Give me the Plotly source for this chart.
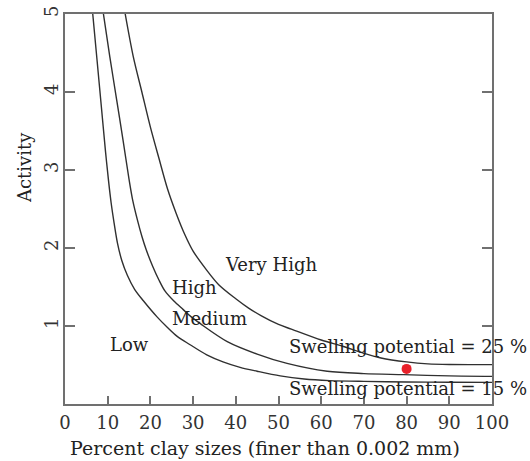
import plotly.graph_objects as go

# Boundary curves (percent clay vs activity)
low_med_x = [6.5, 7.5, 8.5, 9.5, 10.2, 10.8, 11.5, 12.3, 13.3, 14.6, 16.3, 18.4, 21.5, 24.0, 26.2,
             29.3, 33.2, 37.0, 41.0, 45.0, 50.4, 56.0, 62.0, 70.0, 80.0, 90.0, 100.0]
low_med_y = [5.0, 4.41, 3.82, 3.23, 2.86, 2.58, 2.32, 2.06, 1.84, 1.65, 1.47, 1.32, 1.12, 0.98, 0.87,
             0.76, 0.63, 0.54, 0.47, 0.42, 0.36, 0.32, 0.30, 0.29, 0.283, 0.279, 0.277]

med_high_x = [9.0, 10.5, 12.1, 13.6, 15.0, 15.9, 17.0, 18.0, 19.0, 20.5, 22.0, 23.4, 25.5, 27.7,
              29.5, 31.7, 38.0, 45.0, 52.0, 61.4, 70.0, 79.3, 90.0, 100.0]
med_high_y = [5.0, 4.45, 3.9, 3.38, 2.88, 2.6, 2.35, 2.15, 1.98, 1.77, 1.59, 1.45, 1.32, 1.21,
              1.12, 1.03, 0.80, 0.64, 0.52, 0.42, 0.39, 0.376, 0.36, 0.354]

high_vh_x = [14.1, 16.0, 18.0, 20.0, 22.0, 24.0, 26.0, 28.0, 30.0, 33.0, 36.0, 40.0, 43.0, 46.0,
             50.0, 53.0, 60.0, 65.0, 70.0, 74.0, 80.0, 85.0, 90.0, 100.0]
high_vh_y = [5.0, 4.45, 4.0, 3.55, 3.15, 2.76, 2.45, 2.18, 1.96, 1.73, 1.53, 1.35, 1.23, 1.13,
             1.02, 0.96, 0.82, 0.74, 0.65, 0.59, 0.54, 0.515, 0.507, 0.505]

sample_x = [80]
sample_y = [0.45]

region_labels = ["Very High", "High", "Medium", "Low",
                 "Swelling potential = 25 %", "Swelling potential = 15 %"]
region_x = [48.3, 30.3, 33.8, 15.2, 80.4, 80.4]
region_y = [1.79, 1.49, 1.10, 0.76, 0.74, 0.20]

x_ticks = [0, 10, 20, 30, 40, 50, 60, 70, 80, 90, 100]
y_ticks = [1, 2, 3, 4, 5]

FONT = "DejaVu Serif"
LINE = "#303030"
AXIS = "#707070"
TXT = "#222222"

fig = go.Figure()
for xs, ys in [(low_med_x, low_med_y), (med_high_x, med_high_y), (high_vh_x, high_vh_y)]:
    fig.add_trace(go.Scatter(x=xs, y=ys, mode="lines",
                             line=dict(color=LINE, width=1.4, shape="spline", smoothing=0.9),
                             showlegend=False, hoverinfo="skip"))

fig.add_trace(go.Scatter(x=sample_x, y=sample_y, mode="markers",
                         marker=dict(color="#e8202a", size=10), showlegend=False))

for t, x, y in zip(region_labels, region_x, region_y):
    fig.add_annotation(text=t, x=x, y=y, xref="x", yref="y", showarrow=False,
                       xanchor="center", yanchor="middle",
                       font=dict(family=FONT, size=18, color=TXT))

fig.add_annotation(text="Percent clay sizes (finer than 0.002 mm)", xref="paper", yref="paper",
                   x=0.469, y=-0.112, xanchor="center", yanchor="middle", showarrow=False,
                   font=dict(family=FONT, size=19, color=TXT))
fig.add_annotation(text="Activity", xref="paper", yref="paper", textangle=-90,
                   x=-0.096, y=0.605, xanchor="center", yanchor="middle", showarrow=False,
                   font=dict(family=FONT, size=18, color=TXT))

fig.update_layout(
    width=530, height=461,
    margin=dict(l=65, r=38, t=14, b=57),
    paper_bgcolor="white", plot_bgcolor="white",
    xaxis=dict(range=[0, 100], tickvals=x_ticks, ticks="inside", ticklen=8, tickwidth=1.5,
               tickcolor=AXIS, showline=True, linecolor=AXIS, linewidth=2, mirror=True,
               showgrid=False, zeroline=False, ticklabelstandoff=1, automargin=False,
               ticklabeloverflow="allow",
               tickfont=dict(family=FONT, size=18, color="#333333")),
    yaxis=dict(range=[0, 5], tickvals=[0] + y_ticks, ticktext=[""] + [str(v) for v in y_ticks],
               ticks="inside", ticklen=10, tickwidth=1.5, tickangle=-90,
               tickcolor=AXIS, showline=True, linecolor=AXIS, linewidth=2, mirror="ticks",
               showgrid=False, zeroline=False, ticklabelstandoff=-2, automargin=False,
               ticklabeloverflow="allow",
               tickfont=dict(family=FONT, size=18, color="#333333")),
)

fig.write_html("out.html", config={"displayModeBar": False},
               post_script="document.body.style.margin='0px';")
